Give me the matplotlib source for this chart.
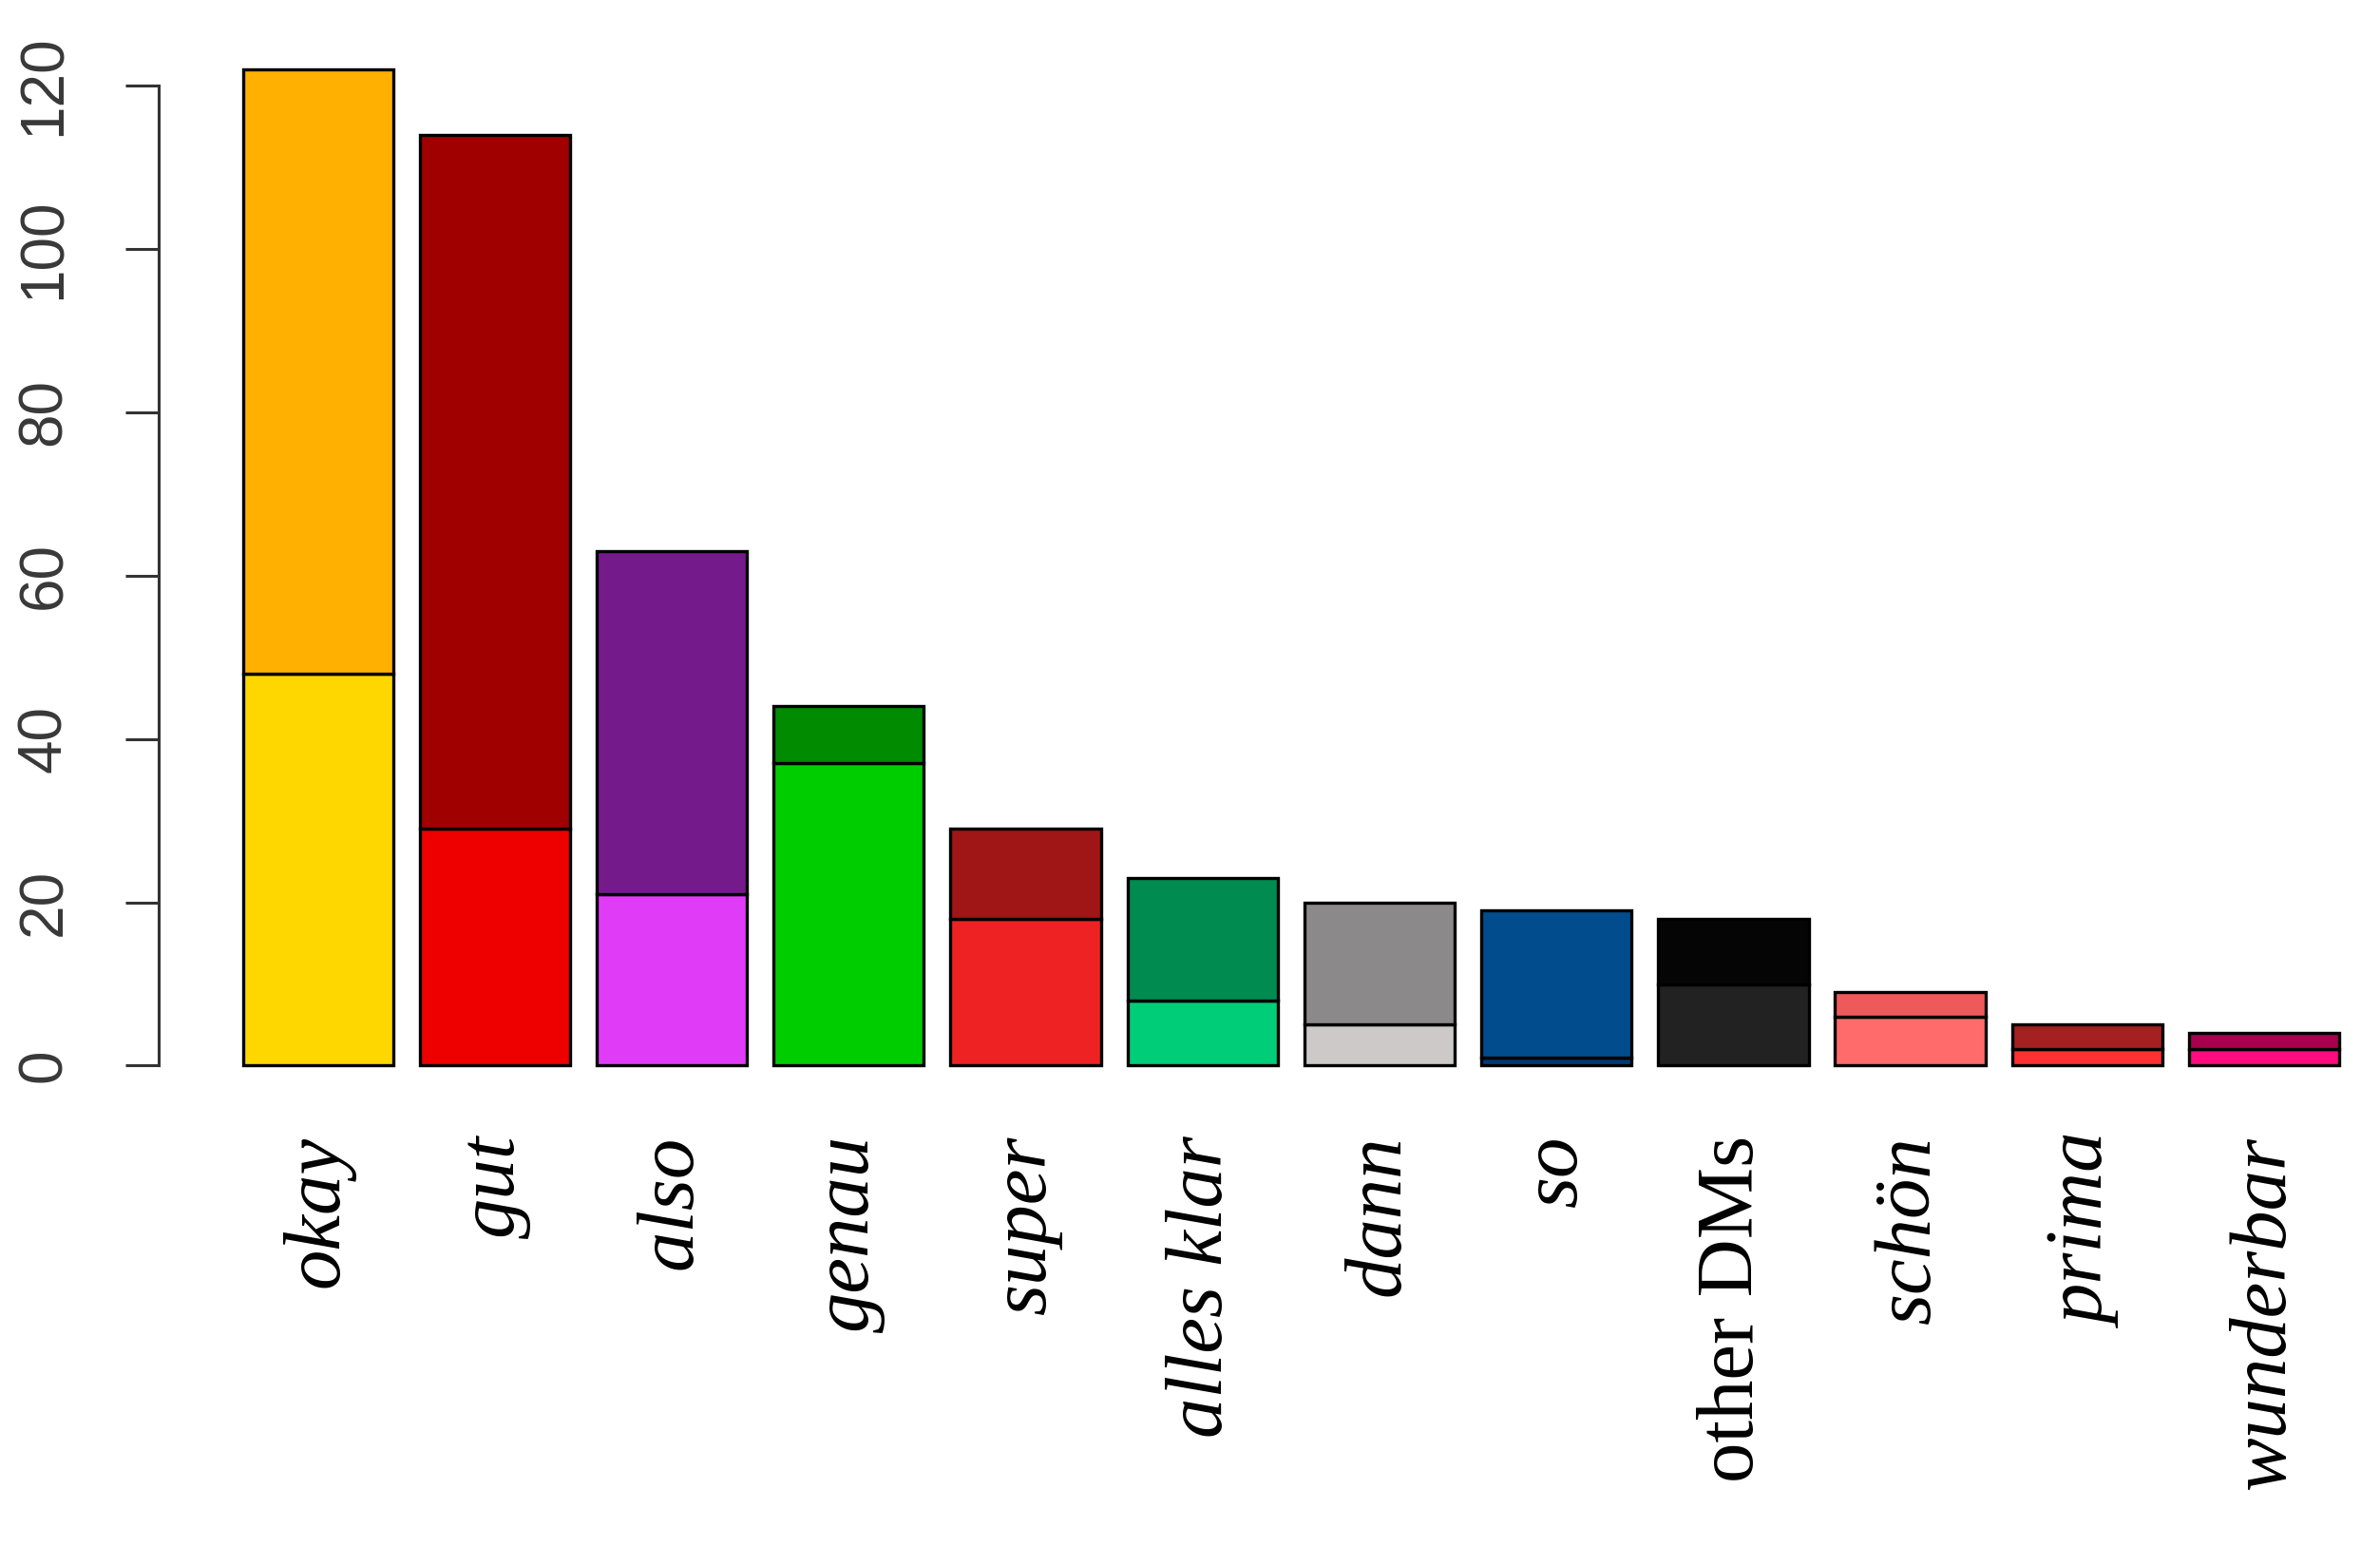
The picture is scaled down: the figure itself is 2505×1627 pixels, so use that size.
import numpy as np
import matplotlib.pyplot as plt

font = 61
linew = 2.4

words = ['okay', 'gut', 'also', 'genau', 'super', 'alles klar', 'dann', 'so',
         'other DMs', 'schön', 'prima', 'wunderbar']
# lower part of each bar and full bar height
lower = [48, 29, 21, 37, 18, 8, 5, 1, 10, 6, 2, 2]
total = [122, 114, 63, 44, 29, 23, 20, 19, 18, 9, 5, 4]
col_lower = ['#FFD700', '#EE0000', '#E03CF8', '#00CD00', '#EE2222', '#00CD78',
             '#CDC9C9', '#003A75', '#222222', '#FF6A6A', '#FF3030', '#FF0A80']
col_upper = ['#FFB000', '#A00000', '#751A8A', '#008B00', '#A01515', '#008B50',
             '#8B8989', '#004C8C', '#050505', '#EE5A5A', '#A52020', '#A8004F']

upper = np.array(total) - np.array(lower)
x = np.arange(len(words))
w = 0.85

fig = plt.figure(figsize=(25.05, 16.27), dpi=100)
ax = fig.add_axes([0.0667, 0.2843, 0.927, 0.6973])

ax.bar(x, lower, width=w, color=col_lower, edgecolor='black', linewidth=linew)
ax.bar(x, upper, width=w, bottom=lower, color=col_upper, edgecolor='black', linewidth=linew)

ax.set_xlim(-0.90, 11.57)
ax.set_ylim(-5, 127)

for s in ['top', 'right', 'bottom']:
    ax.spines[s].set_visible(False)
ax.spines['left'].set_bounds(0, 120)
ax.spines['left'].set_linewidth(2.2)
ax.spines['left'].set_color('#333333')

ax.set_yticks([0, 20, 40, 60, 80, 100, 120])
ax.tick_params(axis='y', length=25, width=2.2, color='#333333', pad=40,
               labelsize=46, labelcolor='#383838', labelrotation=90)
for t in ax.get_yticklabels():
    t.set_fontfamily('Liberation Sans')
    t.set_va('center')

ax.set_xticks(x)
ax.set_xticklabels(words, rotation=90, va='top', ha='center')
ax.tick_params(axis='x', length=0, pad=22)
for t in ax.get_xticklabels():
    t.set_fontfamily('Liberation Serif')
    t.set_fontsize(font)
    if t.get_text() != 'other DMs':
        t.set_fontstyle('italic')

plt.savefig('out.png', dpi=100)
